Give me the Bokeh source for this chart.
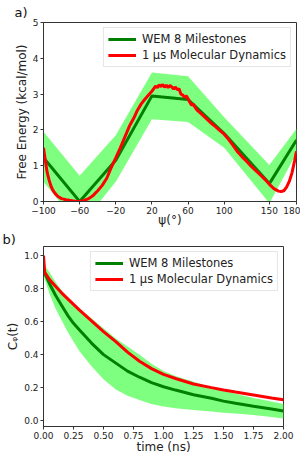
from bokeh.plotting import figure
from bokeh.layouts import column
from bokeh.models import FixedTicker, NumeralTickFormatter, Range1d
from bokeh.embed import file_html
from bokeh.resources import INLINE

# ---------------- panel a) data ----------------
wem_psi = [-100, -60, -20, 20, 60, 100, 150, 180]
wem_fe = [1.22, 0.0, 1.15, 2.95, 2.85, 1.9, 0.5, 1.72]
wem_fe_upper = [1.95, 0.72, 1.85, 3.6, 3.5, 2.35, 1.02, 2.03]
wem_fe_lower = [0.55, -0.7, 0.55, 2.3, 2.22, 1.5, -0.05, 1.35]

md_psi = [-100, -98, -96, -94, -92, -90, -87, -84, -80, -75, -70, -65, -60, -55,
          -50, -45, -40, -35, -30, -25, -20, -15, -10, -5, 0, 4, 8, 12, 16, 19,
          22, 24, 26, 28, 30, 32, 34, 36, 38, 40, 42, 44, 46, 48, 50, 52, 54, 56,
          58, 60, 62, 64, 66, 68, 70, 75, 80, 85, 90, 95, 100, 105, 110, 115, 120,
          125, 130, 135, 140, 145, 150, 155, 160, 163, 166, 169, 172, 175, 178, 180]
md_fe = [1.5, 1.15, 0.82, 0.62, 0.45, 0.33, 0.22, 0.14, 0.08, 0.05, 0.03, 0.01, 0.0, 0.03,
         0.08, 0.17, 0.3, 0.45, 0.65, 0.95, 1.22, 1.5, 1.8, 2.1, 2.33, 2.55, 2.72, 2.85, 2.97, 3.05,
         3.15, 3.22, 3.18, 3.26, 3.21, 3.27, 3.19, 3.25, 3.18, 3.24, 3.2, 3.14, 3.2, 3.12, 3.15, 3.0,
         2.98, 2.91, 2.95, 2.87, 2.77, 2.69, 2.72, 2.62, 2.55, 2.44, 2.32, 2.2, 2.1, 1.99, 1.88,
         1.73, 1.56, 1.38, 1.24, 1.12, 0.98, 0.86, 0.74, 0.62, 0.48, 0.36, 0.29, 0.28, 0.3, 0.4,
         0.56, 0.8, 1.15, 1.4]
psi_ticks = [-100, -60, -20, 20, 60, 100, 150, 180]
fe_ticks = [0, 1, 2, 3, 4, 5]

# ---------------- panel b) data ----------------
t_ns = [0.0, 0.05, 0.1, 0.15, 0.2, 0.25, 0.3, 0.4, 0.5, 0.6, 0.7, 0.8, 0.9, 1.0, 1.1,
        1.25, 1.4, 1.5, 1.6, 1.75, 1.9, 2.0]
wem_c = [0.91, 0.83, 0.76, 0.70, 0.64, 0.59, 0.55, 0.47, 0.40, 0.35, 0.30, 0.263, 0.23,
         0.205, 0.185, 0.157, 0.135, 0.118, 0.105, 0.087, 0.07, 0.058]
wem_c_upper = [0.95, 0.9, 0.84, 0.79, 0.75, 0.71, 0.68, 0.62, 0.56, 0.50, 0.45, 0.40, 0.345,
               0.30, 0.27, 0.235, 0.2, 0.178, 0.162, 0.137, 0.115, 0.10]
wem_c_lower = [0.88, 0.77, 0.68, 0.61, 0.54, 0.48, 0.42, 0.33, 0.25, 0.19, 0.15, 0.125, 0.10,
               0.085, 0.075, 0.064, 0.055, 0.048, 0.043, 0.034, 0.022, 0.012]
md_t = [0.0, 0.01, 0.05, 0.1, 0.15, 0.2, 0.25, 0.3, 0.4, 0.5, 0.6, 0.7, 0.8, 0.9, 1.0, 1.1,
        1.25, 1.4, 1.5, 1.6, 1.75, 1.9, 2.0]
md_c = [1.0, 0.9, 0.855, 0.815, 0.775, 0.74, 0.705, 0.67, 0.605, 0.54, 0.48, 0.415, 0.36,
        0.315, 0.28, 0.255, 0.222, 0.2, 0.186, 0.173, 0.155, 0.137, 0.126]
t_ticks = [0, 0.25, 0.5, 0.75, 1.0, 1.25, 1.5, 1.75, 2.0]
c_ticks = [0.0, 0.2, 0.4, 0.6, 0.8, 1.0]

FONT = "DejaVu Sans"
GREEN = "#008000"
BAND = "#7fff7f"
RED = "#ff0000"


def style(p, title, offset, standoff, xlabel_standoff):
    p.title.text = title
    p.title.text_font = FONT
    p.title.text_font_size = "13px"
    p.title.text_font_style = "normal"
    p.title.text_color = "#111111"
    p.title.align = "left"
    p.title.offset = offset
    p.title.standoff = standoff
    p.xgrid.visible = False
    p.ygrid.visible = False
    p.outline_line_color = "#333333"
    p.outline_line_width = 1
    for ax in (p.xaxis[0], p.yaxis[0]):
        ax.axis_line_color = "#333333"
        ax.major_tick_line_color = "#333333"
        ax.major_tick_in = 0
        ax.major_tick_out = 3
        ax.minor_tick_line_color = None
        ax.major_label_text_font = FONT
        ax.major_label_text_font_size = "9px"
        ax.major_label_text_color = "#222222"
        ax.major_label_standoff = 2
        ax.axis_label_text_font = FONT
        ax.axis_label_text_font_size = "12px"
        ax.axis_label_text_font_style = "normal"
        ax.axis_label_standoff = 1
        ax.axis_label_text_color = "#222222"
    p.xaxis[0].axis_label_standoff = xlabel_standoff


def style_legend(p):
    lg = p.legend[0]
    lg.location = "top_right"
    lg.margin = 5
    lg.padding = 4
    lg.spacing = 2
    lg.glyph_width = 28
    lg.glyph_height = 14
    lg.label_height = 14
    lg.label_standoff = 6
    lg.label_text_font = FONT
    lg.label_text_font_size = "11.5px"
    lg.label_text_color = "#222222"
    lg.border_line_color = "#cccccc"
    lg.border_line_width = 1
    lg.background_fill_alpha = 0.8


# ---------------- panel a) ----------------
p1 = figure(frame_width=253, frame_height=179, output_backend="svg", toolbar_location=None,
            x_range=Range1d(-100, 180), y_range=Range1d(0, 5),
            min_border_left=31, min_border_right=15, min_border_top=21, min_border_bottom=0)
style(p1, "a)", -29, 5, -4)
p1.varea(x=wem_psi, y1=wem_fe_lower, y2=wem_fe_upper, fill_color=BAND, fill_alpha=1.0)
p1.line(wem_psi, wem_fe, line_color=GREEN, line_width=3, legend_label="WEM 8 Milestones")
p1.line(md_psi, md_fe, line_color=RED, line_width=3, legend_label="1 μs Molecular Dynamics")
p1.xaxis.ticker = FixedTicker(ticks=psi_ticks)
p1.xaxis.major_label_overrides = {-100: "−100", -60: "−60", -20: "−20"}
p1.yaxis.ticker = FixedTicker(ticks=fe_ticks)
p1.xaxis.axis_label = "ψ(°)"
p1.yaxis.axis_label = "Free Energy (kcal/mol)"
style_legend(p1)

# ---------------- panel b) ----------------
p2 = figure(frame_width=240, frame_height=180, output_backend="svg", toolbar_location=None,
            x_range=Range1d(0, 2), y_range=Range1d(-0.036, 1.056),
            min_border_left=43, min_border_right=16, min_border_top=0, min_border_bottom=0)
style(p2, "b)", -41, 0, -2)
p2.varea(x=t_ns, y1=wem_c_lower, y2=wem_c_upper, fill_color=BAND, fill_alpha=1.0)
p2.line(t_ns, wem_c, line_color=GREEN, line_width=3, legend_label="WEM 8 Milestones")
p2.line(md_t, md_c, line_color=RED, line_width=3, legend_label="1 μs Molecular Dynamics")
p2.xaxis.ticker = FixedTicker(ticks=t_ticks)
p2.xaxis.formatter = NumeralTickFormatter(format="0.00")
p2.yaxis.ticker = FixedTicker(ticks=c_ticks)
p2.yaxis.formatter = NumeralTickFormatter(format="0.0")
p2.xaxis.axis_label = "time (ns)"
p2.yaxis.axis_label = "Cᵩ(t)"
style_legend(p2)

layout = column(p1, p2, spacing=0)
open("out.html", "w").write(file_html(layout, INLINE))
